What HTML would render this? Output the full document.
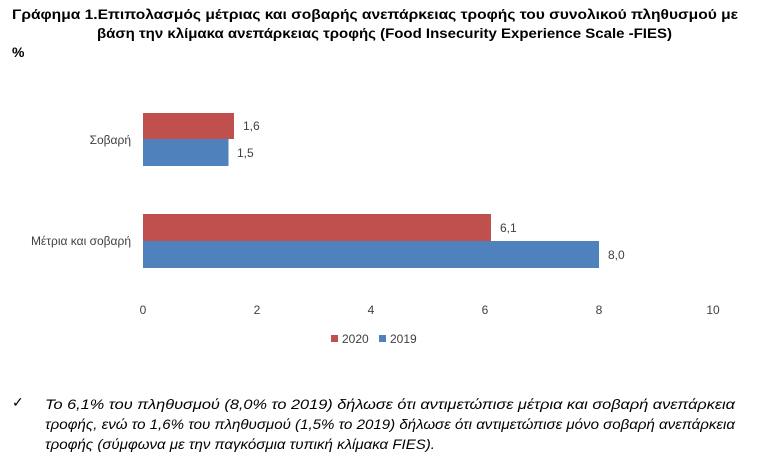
<!DOCTYPE html>
<html><head><meta charset="utf-8"><style>body{margin:0;background:#fff}svg{display:block}</style></head>
<body>
<svg width="768" height="462" xmlns="http://www.w3.org/2000/svg" font-family="Liberation Sans, sans-serif">
<rect width="768" height="462" fill="#fff"/>
<g font-weight="bold" font-size="14" fill="#000">
<text x="12" y="19" textLength="726" lengthAdjust="spacingAndGlyphs">Γράφημα 1.Επιπολασμός μέτριας και σοβαρής ανεπάρκειας τροφής του συνολικού πληθυσμού με</text>
<text x="97" y="38" textLength="575" lengthAdjust="spacingAndGlyphs">βάση την κλίμακα ανεπάρκειας τροφής (Food Insecurity Experience Scale -FIES)</text>
<text x="12" y="57">%</text>
</g>
<rect x="143" y="113" width="91" height="26" fill="#C0504D"/>
<rect x="143" y="139" width="85.5" height="27" fill="#4F81BD"/>
<rect x="143" y="214" width="348" height="27" fill="#C0504D"/>
<rect x="143" y="241" width="456" height="27" fill="#4F81BD"/>
<g font-size="12" fill="#404040">
<text x="243" y="130">1,6</text>
<text x="237" y="157">1,5</text>
<text x="500" y="232">6,1</text>
<text x="608" y="259">8,0</text>
<text x="131" y="144" text-anchor="end">Σοβαρή</text>
<text x="131" y="245" text-anchor="end">Μέτρια και σοβαρή</text>
<g text-anchor="middle">
<text x="143" y="314">0</text><text x="257" y="314">2</text><text x="371" y="314">4</text>
<text x="485" y="314">6</text><text x="599" y="314">8</text><text x="713" y="314">10</text>
</g>
<rect x="331" y="335" width="7" height="7" fill="#C0504D"/>
<text x="342" y="343">2020</text>
<rect x="379" y="335" width="7" height="7" fill="#4F81BD"/>
<text x="390" y="343">2019</text>
</g>
<text x="12" y="407" font-size="14" fill="#000">✓</text>
<g font-size="14" font-style="italic" fill="#000">
<text x="45" y="409" textLength="690" lengthAdjust="spacingAndGlyphs">Το 6,1% του πληθυσμού (8,0% το 2019) δήλωσε ότι αντιμετώπισε μέτρια και σοβαρή ανεπάρκεια</text>
<text x="45" y="429" textLength="690" lengthAdjust="spacingAndGlyphs">τροφής, ενώ το 1,6% του πληθυσμού (1,5% το 2019) δήλωσε ότι αντιμετώπισε μόνο σοβαρή ανεπάρκεια</text>
<text x="45" y="449" textLength="390" lengthAdjust="spacingAndGlyphs">τροφής (σύμφωνα με την παγκόσμια τυπική κλίμακα FIES).</text>
</g>
</svg>
</body></html>
